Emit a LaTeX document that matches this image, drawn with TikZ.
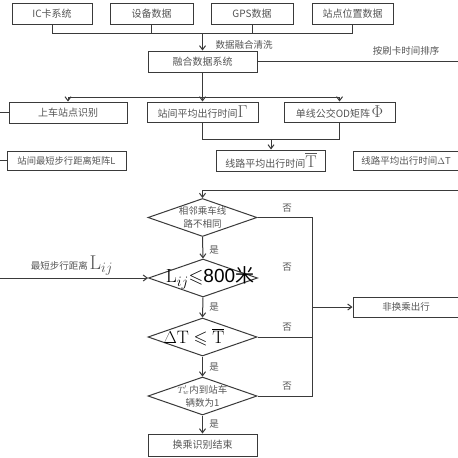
\documentclass[tikz,border=0pt]{standalone}
\usepackage{amsmath,amssymb}
\usepackage{fontspec}
\newfontfamily\cjk{Noto Sans CJK SC}
\newfontfamily\arialf{Liberation Sans}
\usetikzlibrary{shapes.geometric,arrows.meta}
\definecolor{lc}{HTML}{3A3A3A}
\definecolor{tc}{HTML}{555555}
\begin{document}
\begin{tikzpicture}[x=1pt,y=-1pt,
  box/.style={draw=lc, line width=1pt, inner sep=0pt, text=tc, font=\cjk\fontsize{10}{11}\selectfont},
  dia/.style={draw=lc, line width=1pt, shape=diamond, inner sep=0pt, minimum width=109pt, minimum height=38pt},
  txt/.style={inner sep=0pt, text=tc, align=center, font=\cjk\fontsize{9.5}{13}\selectfont},
  lab/.style={inner sep=0pt, text=tc, font=\cjk\fontsize{9.5}{11}\selectfont},
  ln/.style={draw=lc, line width=1pt},
  arr/.style={ln, -{Straight Barb[length=4pt,width=6pt]}}]
\useasboundingbox (0,0) rectangle (458,458);
\fill[white] (0,0) rectangle (458,458);
\clip (0,0) rectangle (458,458);
% top row
\node[box, minimum width=80pt, minimum height=21pt] (ic) at (52,13.5) {IC卡系统};
\node[box, minimum width=83pt, minimum height=21pt] (sb) at (151.5,13.5) {设备数据};
\node[box, minimum width=82pt, minimum height=21pt] (gps) at (252,13.5) {GPS数据};
\node[box, minimum width=81pt, minimum height=21pt] (zd) at (352.5,13.5) {站点位置数据};
\coordinate (bus) at (202.5,33);
\draw[ln] (ic.south) |- (bus);
\draw[ln] (sb.south) |- (bus);
\draw[ln] (gps.south) |- (bus);
\draw[ln] (zd.south) |- (bus);
\node[box, minimum width=109pt, minimum height=21pt] (fuse) at (202.5,61.5) {融合数据系统};
\draw[arr] (bus) -- (fuse.north);
\node[lab] (lclean) at (244,45) {数据融合清洗};
\coordinate (fr) at (462,61.5);
\draw[ln] (fuse.east) -- (fr);
\node[lab] (lsort) at (406,51) {按刷卡时间排序};
% second row
\coordinate (br) at (202.5,97);
\node[box, minimum width=118pt, minimum height=21pt] (sc) at (68,112.5) {上车站点识别};
\node[box, minimum width=111pt, minimum height=20pt] (gam) at (202.5,112) {站间平均出行时间{\fontsize{17}{17}\selectfont$\Gamma$}};
\node[box, minimum width=111pt, minimum height=20pt] (phi) at (339.5,112) {单线公交OD矩阵\,{\fontsize{17}{17}\selectfont$\Phi$}};
\draw[ln] (fuse.south) -- (br);
\draw[arr] (br) -| (sc.north);
\draw[arr] (br) -- (gam.north);
\draw[arr] (br) -| (phi.north);
\coordinate (l1) at (-3,112.5);
\draw[ln] (l1) -- (sc.west);
% third row
\node[box, minimum width=119pt, minimum height=19pt, font=\cjk\fontsize{9.3}{11}\selectfont] (Lb) at (66.5,160.5) {站间最短步行距离矩阵L};
\coordinate (l2) at (-3,160.5);
\draw[ln] (l2) -- (Lb.west);
\node[box, minimum width=109pt, minimum height=21pt] (tb) at (271,160.5) {线路平均出行时间{\fontsize{17}{17}\selectfont$\overline{\mathrm{T}}$}};
\coordinate (m) at (271,139);
\draw[ln] (gam.south) |- (m);
\draw[ln] (phi.south) |- (m);
\draw[arr] (m) -- (tb.north);
\node[box, minimum width=110pt, minimum height=19pt] (dtb) at (408,160.5) {};
\node[lab] (dtt) at (406,160.5) {线路平均出行时间$\Delta$T};
% diamonds
\node[dia] (d1) at (202.5,217.5) {};
\node[txt] (t1) at (d1) {相邻乘车线\\路不相同};
\node[dia] (d2) at (203,278) {};
\node[inner sep=0pt, text=black] (t2) at (210,278) {\fontsize{19}{19}\selectfont$\mathrm{L}_{ij}{\leqslant}$\arialf 800\cjk 米};
\node[dia] (d3) at (202.5,337) {};
\node[inner sep=0pt, text=black] (t3) at (194,337) {\fontsize{18}{18}\selectfont$\Delta\mathrm{T}\leqslant\overline{\mathrm{T}}$};
\node[dia] (d4) at (202.5,396) {};
\node[txt] (t4) at (d4) {$T'_w$内到站车\\辆数为1};
\node[box, minimum width=109pt, minimum height=22pt] (end) at (202.5,445) {换乘识别结束};
\coordinate (top) at (462,190);
\draw[arr] (top) -| (d1.north);
\draw[arr] (d1.south) -- (d2.north);
\draw[arr] (d2.south) -- (d3.north);
\draw[arr] (d3.south) -- (d4.north);
\draw[arr] (d4.south) -- (end.north);
\node[lab] (y1) at (214,250) {是};
\node[lab] (y2) at (214,307) {是};
\node[lab] (y3) at (214,367) {是};
\node[lab] (y4) at (214,424) {是};
\node[lab] (n1) at (287,208) {否};
\node[lab] (n2) at (287,267) {否};
\node[lab] (n3) at (287,327) {否};
\node[lab] (n4) at (287,386) {否};
\coordinate (v1) at (312,217.5);
\coordinate (v4) at (312,396);
\draw[ln] (d1.east) -- (v1) -- (v4) -- (d4.east);
\draw[ln] (d3.east) -- (d3.east -| v1);
\node[box, minimum width=110pt, minimum height=20pt] (nh) at (408,307) {};
\node[lab] (nht) at (406,307) {非换乘出行};
\draw[arr] (v1 |- nh.west) -- (nh.west);
\coordinate (l3) at (-3,278);
\draw[arr] (l3) -- (d2.west);
\node[lab] (lmin) at (72,266) {最短步行距离\,{\fontsize{20}{20}\selectfont$\mathrm{L}_{ij}$}};
\end{tikzpicture}
\end{document}
